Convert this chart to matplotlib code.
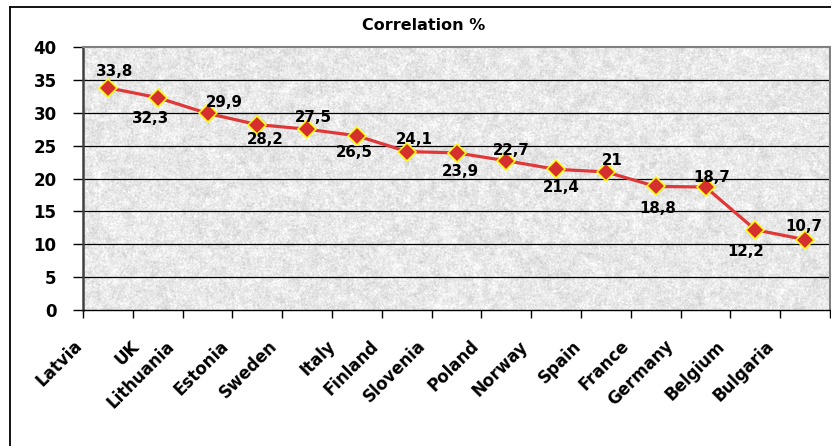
import numpy as np
import matplotlib
matplotlib.use("Agg")
import matplotlib.pyplot as plt
from matplotlib.lines import Line2D
from matplotlib.transforms import offset_copy

# Data
countries = ["Latvia", "UK", "Lithuania", "Estonia", "Sweden", "Italy", "Finland",
             "Slovenia", "Poland", "Norway", "Spain", "France", "Germany",
             "Belgium", "Bulgaria"]
correlation = [33.8, 32.3, 29.9, 28.2, 27.5, 26.5, 24.1, 23.9, 22.7, 21.4, 21.0,
               18.8, 18.7, 12.2, 10.7]
y_ticks = [0, 5, 10, 15, 20, 25, 30, 35, 40]
title = "Correlation %"

# Value-label placement (pixel offsets of each label centre from its point)
label_offsets = [(7, 16), (-7, -21), (17, 11), (8, -15), (6, 12), (-3, -17),
                 (8, 12), (4, -19), (5, 10), (5, -18), (6, 11), (2, -22),
                 (6, 10), (-10, -22), (-1, 13)]

plt.rcParams['font.family'] = ['DejaVu Sans']

W, H, DPI = 831, 446, 100
fig = plt.figure(figsize=(W / DPI, H / DPI), dpi=DPI)
fig.patch.set_facecolor("white")

x0, x1, y_top, y_bot = 83, 830, 47, 310
ax = fig.add_axes([x0 / W, 1 - y_bot / H, (x1 - x0) / W, (y_bot - y_top) / H])

n = len(countries)
xs = np.arange(n) + 0.5
ax.set_xlim(0, n)
ax.set_ylim(0, 40)

# Speckled grey texture for the plot area
rng = np.random.default_rng(7)
th, tw = y_bot - y_top, x1 - x0


def blurred(k):
    src = rng.normal(size=(th + k, tw + k))
    out = np.zeros((th, tw))
    for dy in range(k):
        for dx in range(k):
            out += src[dy:dy + th, dx:dx + tw]
    return out / k


tex = (0.91 + 0.018 * blurred(7) + 0.025 * blurred(2)
       + 0.016 * rng.normal(size=(th, tw)))
tex = np.clip(tex, 0.75, 1.0)
ax.imshow(tex, cmap="gray", vmin=0, vmax=1, extent=[0, n, 0, 40],
          aspect="auto", interpolation="nearest", zorder=0)

# Horizontal gridlines
for v in y_ticks[1:-1]:
    ax.axhline(v, color="black", lw=0.9, zorder=1)

# Series
ax.plot(xs, correlation, color="#e03838", lw=2.3, zorder=3,
        marker="D", markersize=9.5, markerfacecolor="#d62f2f",
        markeredgecolor="#ffff00", markeredgewidth=1.1)

for xv, v, (dx, dy) in zip(xs, correlation, label_offsets):
    txt = f"{v:g}".replace(".", ",")
    ax.annotate(txt, (xv, v), xytext=(dx, dy), textcoords="offset pixels",
                ha="center", va="center", fontsize=10.8, fontweight="bold",
                color="black", zorder=4)

# Axes styling
ax.set_yticks(y_ticks)
ax.set_yticklabels([str(t) for t in y_ticks], fontsize=12, fontweight="bold")
ax.tick_params(axis="y", length=7, width=1, pad=12, color="black")
ax.set_xticks(np.arange(n + 1))
ax.set_xticklabels([])
ax.tick_params(axis="x", length=6, width=1, color="black")

for side in ("top", "right"):
    ax.spines[side].set_color("#808080")
    ax.spines[side].set_linewidth(1.5)
ax.spines["left"].set_color("#404040")
ax.spines["left"].set_linewidth(1.8)
ax.spines["bottom"].set_color("black")
ax.spines["bottom"].set_linewidth(1.0)

# Rotated category labels; longer names sit further left of their slot
renderer = fig.canvas.get_renderer()
trans = ax.get_xaxis_transform()
for xv, name in zip(xs, countries):
    t = ax.text(xv, 0, name, transform=trans, rotation=45,
                rotation_mode="anchor", ha="right", va="top",
                fontsize=12, fontweight="bold")
    bw = t.get_window_extent(renderer).width
    t.set_transform(offset_copy(trans, fig=fig, x=-16 - 0.35 * bw, y=-27,
                                units="dots"))

# Title
fig.text(424 / W, 1 - 25 / H, title, ha="center", va="center",
         fontsize=11.5, fontweight="bold")

# Chart frame (top and left edges)
fig.add_artist(Line2D([10 / W, 1.0], [1 - 7 / H, 1 - 7 / H],
                      transform=fig.transFigure, color="black", lw=1.3))
fig.add_artist(Line2D([10 / W, 10 / W], [0.0, 1 - 7 / H],
                      transform=fig.transFigure, color="black", lw=1.3))

fig.savefig("out.png", dpi=DPI)
